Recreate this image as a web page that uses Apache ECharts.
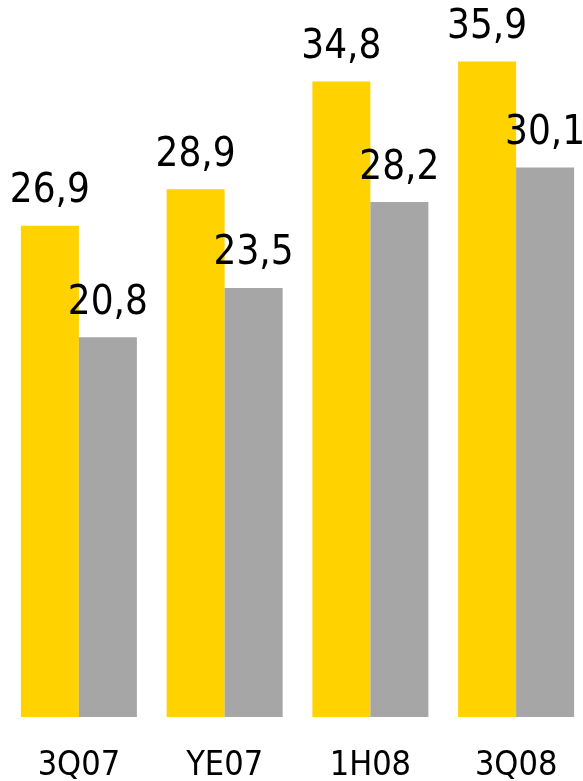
<!DOCTYPE html>
<html>
<head>
<meta charset="utf-8">
<script src="https://cdn.jsdelivr.net/npm/echarts@6/dist/echarts.min.js"></script>
<style>
  html, body { margin: 0; padding: 0; background: #fff; }
  #chart { width: 583px; height: 781px; }
</style>
</head>
<body>
<div id="chart"></div>
<script>
var categories = ['3Q07', 'YE07', '1H08', '3Q08'];
var yellowValues = [26.9, 28.9, 34.8, 35.9];
var grayValues = [20.8, 23.5, 28.2, 30.1];

var fontName = '"DejaVu Sans Condensed", "Liberation Sans Narrow", sans-serif';

// valeurs avec virgule décimale
function virgule(p) {
  return String(p.value.toFixed(1)).replace('.', ',');
}

var chart = echarts.init(document.getElementById('chart'));
var option = {
  animation: false,
  grid: { left: 6, top: 0, right: -6, bottom: 64, containLabel: false, outerBoundsMode: 'none' },
  xAxis: {
    type: 'category',
    data: categories,
    axisLine: { show: false },
    axisTick: { show: false },
    axisLabel: {
      color: '#000',
      fontFamily: fontName,
      fontSize: 34,
      lineHeight: 34,
      margin: 32
    }
  },
  yAxis: {
    type: 'value',
    min: 0,
    max: 39.27,
    show: false,
    splitLine: { show: false }
  },
  series: [
    {
      type: 'bar',
      data: yellowValues,
      barWidth: 58,
      barGap: '0%',
      itemStyle: { color: '#FFD200' },
      label: {
        show: true,
        position: 'top',
        distance: 14,
        color: '#000',
        fontFamily: fontName,
        fontSize: 40,
        lineHeight: 40,
        formatter: virgule
      }
    },
    {
      type: 'bar',
      data: grayValues,
      barWidth: 58,
      barGap: '0%',
      itemStyle: { color: '#A6A6A6' },
      label: {
        show: true,
        position: 'top',
        distance: 14,
        color: '#000',
        fontFamily: fontName,
        fontSize: 40,
        lineHeight: 40,
        formatter: virgule
      }
    }
  ]
};
chart.setOption(option);
</script>
</body>
</html>
